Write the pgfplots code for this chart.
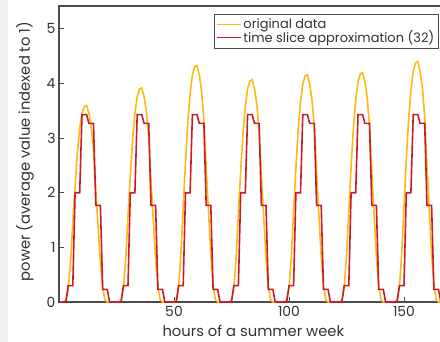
\documentclass[border=0pt]{standalone}
\usepackage{fontspec}
\setmainfont{Poppins}
\usepackage{pgfplots}
\pgfplotsset{compat=1.18}
\usepackage{pgfplotstable}
\definecolor{yel}{RGB}{252,186,18}
\definecolor{myred}{RGB}{200,28,45}
\definecolor{axgray}{RGB}{75,75,75}
\definecolor{txtgray}{RGB}{50,50,50}
\definecolor{bandgray}{RGB}{238,242,239}

\pgfplotstableread{
x y
1 0
2 0
3 0.04
4 0.22
5 0.72
6 1.44
7 2.12
8 2.74
9 3.17
10 3.46
11 3.58
12 3.60
13 3.46
14 3.20
15 2.77
16 2.05
17 1.37
18 0.72
19 0.25
20 0.04
21 0
22 0
23 0
24 0
25 0
26 0
27 0.04
28 0.24
29 0.78
30 1.57
31 2.31
32 2.98
33 3.45
34 3.76
35 3.90
36 3.92
37 3.76
38 3.49
39 3.02
40 2.23
41 1.49
42 0.78
43 0.27
44 0.04
45 0
46 0
47 0
48 0
49 0
50 0
51 0.04
52 0.26
53 0.87
54 1.73
55 2.55
56 3.29
57 3.81
58 4.16
59 4.31
60 4.33
61 4.16
62 3.85
63 3.33
64 2.47
65 1.65
66 0.87
67 0.30
68 0.04
69 0
70 0
71 0
72 0
73 0
74 0
75 0.04
76 0.24
77 0.81
78 1.63
79 2.40
80 3.09
81 3.58
82 3.91
83 4.05
84 4.07
85 3.91
86 3.62
87 3.13
88 2.32
89 1.55
90 0.81
91 0.28
92 0.04
93 0
94 0
95 0
96 0
97 0
98 0
99 0.04
100 0.25
101 0.83
102 1.66
103 2.45
104 3.16
105 3.66
106 3.99
107 4.14
108 4.16
109 3.99
110 3.70
111 3.20
112 2.37
113 1.58
114 0.83
115 0.29
116 0.04
117 0
118 0
119 0
120 0
121 0
122 0
123 0.04
124 0.25
125 0.84
126 1.68
127 2.48
128 3.19
129 3.70
130 4.03
131 4.18
132 4.20
133 4.03
134 3.74
135 3.23
136 2.39
137 1.60
138 0.84
139 0.29
140 0.04
141 0
142 0
143 0
144 0
145 0
146 0
147 0.04
148 0.26
149 0.88
150 1.76
151 2.60
152 3.34
153 3.87
154 4.22
155 4.38
156 4.40
157 4.22
158 3.92
159 3.39
160 2.51
161 1.67
162 0.88
163 0.31
164 0.04
165 0
166 0
167 0
168 0
}\orig

\pgfplotstableread{
x y
1 0
3 0
4 0.3
6 0.3
7 2.0
9 2.0
10 3.43
12 3.43
13 3.27
15 3.27
16 1.77
18 1.77
19 0.23
21 0.23
22 0
24 0
25 0
27 0
28 0.3
30 0.3
31 2.0
33 2.0
34 3.43
36 3.43
37 3.27
39 3.27
40 1.77
42 1.77
43 0.23
45 0.23
46 0
48 0
49 0
51 0
52 0.3
54 0.3
55 2.0
57 2.0
58 3.43
60 3.43
61 3.27
63 3.27
64 1.77
66 1.77
67 0.23
69 0.23
70 0
72 0
73 0
75 0
76 0.3
78 0.3
79 2.0
81 2.0
82 3.43
84 3.43
85 3.27
87 3.27
88 1.77
90 1.77
91 0.23
93 0.23
94 0
96 0
97 0
99 0
100 0.3
102 0.3
103 2.0
105 2.0
106 3.43
108 3.43
109 3.27
111 3.27
112 1.77
114 1.77
115 0.23
117 0.23
118 0
120 0
121 0
123 0
124 0.3
126 0.3
127 2.0
129 2.0
130 3.43
132 3.43
133 3.27
135 3.27
136 1.77
138 1.77
139 0.23
141 0.23
142 0
144 0
145 0
147 0
148 0.3
150 0.3
151 2.0
153 2.0
154 3.43
156 3.43
157 3.27
159 3.27
160 1.77
162 1.77
163 0.23
165 0.23
166 0
168 0
}\slices

\begin{document}
\begin{tikzpicture}
\begin{axis}[
  name=ax,
  set layers,
  scale only axis,
  width=386.4bp, height=296bp,
  xmin=0, xmax=168, ymin=0, ymax=5.42,
  xtick={50,100,150}, ytick={0,1,2,3,4,5},
  xtick pos=left, ytick pos=left,
  tick align=inside,
  major tick length=5bp,
  tick style={axgray, line width=1pt},
  axis line style={axgray, line width=1.2pt},
  clip=false,
  /pgf/number format/assume math mode=true,
  ticklabel style={font=\fontsize{14}{16}\selectfont, text=txtgray},
  xticklabel style={yshift=-1bp},
  xlabel={hours of a summer week},
  ylabel={power (average value indexed to 1)},
  label style={font=\fontsize{14.8}{17}\selectfont, text=txtgray},
  xlabel style={at={(axis description cs:0.503,-0.118)}, anchor=base},
  ylabel style={at={(axis description cs:-0.088,0.508)}, anchor=center},
  legend style={at={(0.983,0.973)}, anchor=north east,
    draw=axgray, line width=1pt, fill=white,
    font=\fontsize{13}{14}\selectfont, text=txtgray,
    row sep=-3pt, inner sep=2pt},
  legend cell align=left,
  legend image code/.code={\draw[#1, line width=1pt] (0cm,0cm) -- (0.85cm,0cm);},
]
\addplot[yel, line width=1.6pt, on layer=axis foreground] table[x=x, y=y] {\orig};
\addlegendentry{original data}
\addplot[myred, line width=1.6pt, on layer=axis foreground] table[x=x, y=y] {\slices};
\addlegendentry{time slice approximation (32)}
\end{axis}
\fill[bandgray] ([xshift=-59bp,yshift=-40bp]ax.south west) rectangle ([xshift=-51bp,yshift=6bp]ax.north west);
\pgfresetboundingbox
\path[use as bounding box] ([xshift=-59bp,yshift=-40bp]ax.south west) rectangle ([xshift=381bp,yshift=6bp]ax.north west);
\end{tikzpicture}
\end{document}
